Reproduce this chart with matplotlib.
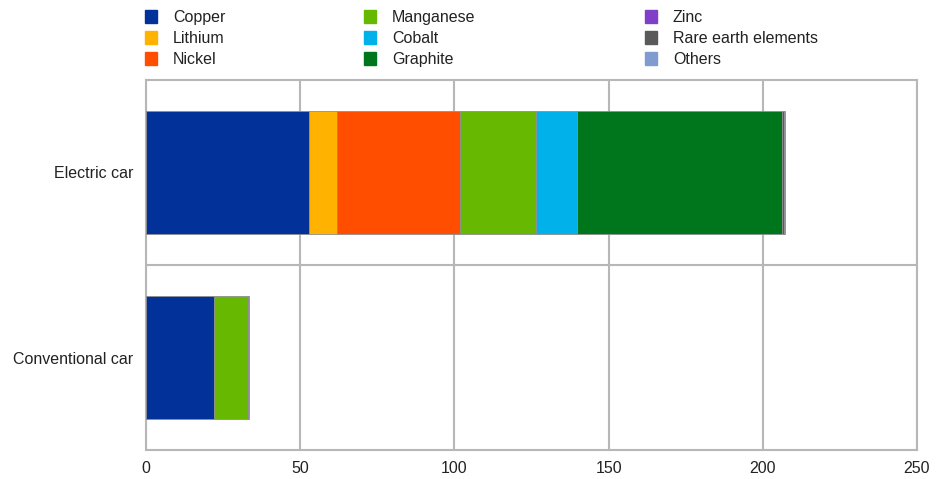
import matplotlib.pyplot as plt
from matplotlib.patches import Patch

plt.rcParams["font.family"] = ["Liberation Sans", "DejaVu Sans"]

cars = ["Electric car", "Conventional car"]
minerals = ["Copper", "Lithium", "Nickel", "Manganese", "Cobalt", "Graphite",
            "Zinc", "Rare earth elements", "Others"]
# kg per vehicle, by mineral
electric = [52.7, 9.2, 39.9, 24.6, 13.3, 66.5, 0.1, 0.5, 0.3]
conventional = [21.9, 0.0, 0.0, 11.3, 0.0, 0.0, 0.0, 0.0, 0.3]
colors = ["#03319a", "#ffb200", "#ff4e00", "#66b800", "#00b1ea", "#00761c",
          "#7f3fc8", "#5a5a5a", "#7f9bcf"]
xticks = [0, 50, 100, 150, 200, 250]

grid = "#b7b7b7"
fs = 11.5

fig = plt.figure(figsize=(9.39, 4.79), dpi=100)
ax = fig.add_axes([146 / 939, 1 - 450 / 479, 771 / 939, 370 / 479])

values = list(zip(electric, conventional))
left = [0.0, 0.0]
for name, col, vals in zip(minerals, colors, values):
    ax.barh([0, 1], vals, left=left, height=0.665, color=col,
            edgecolor="#8f8f8f", linewidth=0.6, label=name, zorder=3)
    left = [l + v for l, v in zip(left, vals)]

ax.set_xlim(0, 250)
ax.set_ylim(1.5, -0.5)
ax.set_xticks(xticks)
ax.set_yticks([0, 1])
ax.set_yticklabels(cars)
ax.tick_params(length=0, labelsize=fs, colors="#222222")
ax.tick_params(axis="x", pad=8)
ax.tick_params(axis="y", pad=9)

for x in xticks:
    ax.axvline(x, color=grid, lw=1.5, zorder=1)
ax.axhline(0.5, color=grid, lw=1.5, zorder=1)
for side in ax.spines.values():
    side.set_color(grid)
    side.set_linewidth(1.5)

# legend in three columns of three, placed column by column
col_x = [145, 364, 645]
for i, x0 in enumerate(col_x):
    handles = [Patch(facecolor=c, edgecolor=c, label=m)
               for m, c in zip(minerals[3 * i:3 * i + 3], colors[3 * i:3 * i + 3])]
    leg = fig.legend(handles=handles, loc="upper left",
                     bbox_to_anchor=(x0 / 939, 1 - 10 / 479), frameon=False,
                     fontsize=fs, handlelength=0.75, handleheight=0.8,
                     handletextpad=1.0, labelspacing=0.38, borderpad=0,
                     borderaxespad=0)
    for t in leg.get_texts():
        t.set_color("#222222")

fig.savefig("out.png", dpi=100)
